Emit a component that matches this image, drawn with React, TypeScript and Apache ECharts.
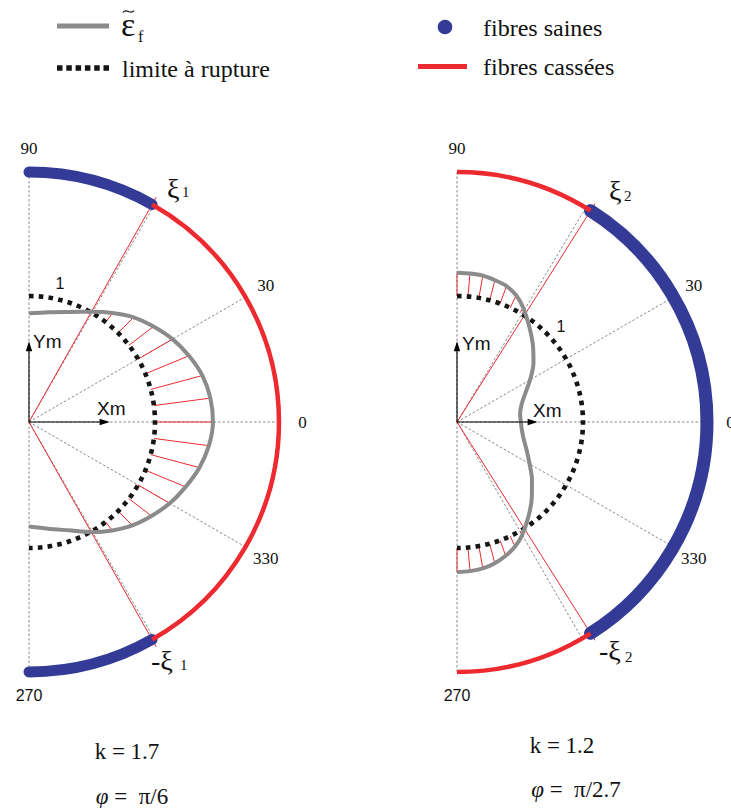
import React, { useEffect, useRef } from 'react';
import * as echarts from 'echarts';

// ---------------- data ----------------
const TICK_ANGLES = [90, 30, 0, -30, -90];
const TICK_LABELS = ['90', '30', '0', '330', '270'];

const LEFT_GUIDE_ANGLES = [90, 60, 30, 0, -30, -60, -90];
const RIGHT_GUIDE_ANGLES = [90, 59, 30, 0, -30, -60, -90];

const LEFT_XI = 60.5;
const RIGHT_XI = 57.7;

const LEFT_GRAY_ANGLES = [90, 80, 70, 60, 52.5, 45, 37.5, 30, 22.5, 15, 7.5, 0, -7.5, -15, -22.5, -30, -37.5, -45, -52.5, -60, -70, -80, -90];
const LEFT_GRAY_R = [0.863, 0.885, 0.93, 1.01, 1.09, 1.175, 1.245, 1.315, 1.374, 1.425, 1.452, 1.46, 1.44, 1.4, 1.345, 1.29, 1.225, 1.16, 1.085, 1.01, 0.915, 0.86, 0.83];

const RIGHT_GRAY_ANGLES = [90, 85, 80, 75, 70, 65, 60, 52.5, 45, 37.5, 30, 22.5, 15, 7.5, 0, -7.5, -15, -22.5, -30, -37.5, -45, -52.5, -60, -65, -70, -75, -80, -85, -90];
const RIGHT_GRAY_R = [1.185, 1.183, 1.18, 1.165, 1.148, 1.11, 1.05, 0.945, 0.853, 0.765, 0.67, 0.585, 0.53, 0.505, 0.507, 0.52, 0.55, 0.6, 0.665, 0.75, 0.84, 0.935, 1.035, 1.09, 1.13, 1.16, 1.18, 1.188, 1.19];

const LEFT_HATCH_ANGLES = [52.5, 45, 37.5, 30, 22.5, 15, 7.5, 0, -7.5, -15, -22.5, -30, -37.5, -45, -52.5];
const RIGHT_HATCH_ANGLES = [90, 85, 80, 75, 70, 65, 60, -60, -65, -70, -75, -80, -85, -90];

const LIMIT_R = 1;
const RING_R = 1.984;
const XI_RAY_R = 2.05;
const LABEL_R = 2.17;
const ARROW_LEN = 0.64;

const K_VALUES = ['1.7', '1.2'];
const PHI_VALUES = ['π/6', 'π/2.7'];

// ---------------- styling ----------------
const UNIT = 126;
const POLAR_MAX = 2.1;
const RED = '#ec2a2f';
const BLUE = '#333b96';
const GRAY = '#8b8b8b';
const GUIDE = '#7a7a7a';
const SERIF = 'Liberation Serif';
const SANS = 'Liberation Sans';

const rad = (d: number) => (d * Math.PI) / 180;

function arcRender(color: string, width: number, cap: string, dash?: number[]) {
  return (params: any, api: any) => {
    const r = api.value(0);
    const a1 = api.value(1);
    const a2 = api.value(2);
    const c = api.coord([0, 0]);
    const p = api.coord([r, 0]);
    const R = Math.hypot(p[0] - c[0], p[1] - c[1]);
    return {
      type: 'arc',
      shape: { cx: c[0], cy: c[1], r: R, startAngle: -rad(a1), endAngle: -rad(a2), clockwise: true },
      style: { stroke: color, lineWidth: width, fill: null, lineCap: cap, lineDash: dash || null },
    };
  };
}

function segRender(color: string, width: number, dash?: number[]) {
  return (params: any, api: any) => {
    const a = api.value(1);
    const p1 = api.coord([api.value(0), a]);
    const p2 = api.coord([api.value(2), a]);
    return {
      type: 'line',
      shape: { x1: p1[0], y1: p1[1], x2: p2[0], y2: p2[1] },
      style: { stroke: color, lineWidth: width, lineDash: dash || null },
    };
  };
}

function arrowRender(params: any, api: any) {
  const len = api.value(0);
  const a = api.value(1);
  const c = api.coord([0, a]);
  const p = api.coord([len, a]);
  const dx = p[0] - c[0];
  const dy = p[1] - c[1];
  const L = Math.hypot(dx, dy);
  const ux = dx / L;
  const uy = dy / L;
  const head = 10;
  const half = 3.2;
  const bx = p[0] - ux * head;
  const by = p[1] - uy * head;
  return {
    type: 'group',
    children: [
      { type: 'line', shape: { x1: c[0], y1: c[1], x2: bx + ux * 2, y2: by + uy * 2 }, style: { stroke: '#000', lineWidth: 1.1 } },
      {
        type: 'polygon',
        shape: { points: [[p[0], p[1]], [bx - uy * half, by + ux * half], [bx + uy * half, by - ux * half]] },
        style: { fill: '#000' },
      },
    ],
  };
}

function tickLabelRender(params: any, api: any) {
  const idx = api.value(2);
  const p = api.coord([api.value(0), api.value(1)]);
  const t = TICK_LABELS[idx];
  const isSans = t === '270';
  return {
    type: 'text',
    x: p[0],
    y: p[1],
    style: {
      text: t,
      fill: '#111',
      fontSize: isSans ? 16 : 17,
      fontFamily: isSans ? SANS : SERIF,
      align: 'center',
      verticalAlign: 'middle',
    },
  };
}

function panelSeries(
  polarIndex: number,
  guides: number[],
  xi: number,
  healthy: number[][],
  broken: number[][],
  healthyWidth: number,
  grayAngles: number[],
  grayR: number[],
  hatchAngles: number[],
) {
  const base = { type: 'custom', coordinateSystem: 'polar', polarIndex, encode: { radius: 0, angle: 1 }, silent: true };
  const hatchData = hatchAngles.map((a) => [LIMIT_R, a, grayR[grayAngles.indexOf(a)]]);
  return [
    { ...base, name: 'guides' + polarIndex, z: 1, renderItem: segRender(GUIDE, 0.9, [2.5, 2]), data: guides.map((a) => [0, a, RING_R]) },
    { ...base, name: 'hatch' + polarIndex, z: 2, renderItem: segRender(RED, 1), data: hatchData },
    { ...base, name: 'xi' + polarIndex, z: 3, renderItem: segRender(RED, 1), data: [[0, xi, XI_RAY_R], [0, -xi, XI_RAY_R]] },
    { ...base, name: 'limite à rupture', z: 4, renderItem: arcRender('#151515', 4.6, 'butt', [4.6, 5.2]), data: [[LIMIT_R, 90, -90]] },
    {
      type: 'line',
      name: 'ε' + polarIndex,
      coordinateSystem: 'polar',
      polarIndex,
      z: 5,
      smooth: 0.3,
      symbol: 'none',
      clip: false,
      silent: true,
      lineStyle: { color: GRAY, width: 4 },
      data: grayAngles.map((a, i) => [grayR[i], a]),
    },
    { ...base, name: 'fibres saines' + polarIndex, z: 6, renderItem: arcRender(BLUE, healthyWidth, 'round'), data: healthy.map((h) => [RING_R, h[0], h[1]]) },
    { ...base, name: 'fibres cassées' + polarIndex, z: 7, renderItem: arcRender(RED, 4.5, 'butt'), data: broken.map((b) => [RING_R, b[0], b[1]]) },
    { ...base, name: 'axes' + polarIndex, z: 8, renderItem: arrowRender, data: [[ARROW_LEN, 0], [ARROW_LEN, 90]] },
    { ...base, name: 'ticks' + polarIndex, z: 9, renderItem: tickLabelRender, data: TICK_ANGLES.map((a, i) => [LABEL_R, a, i]) },
  ];
}

function txt(text: string, x: number, y: number, size: number, family = SERIF, align = 'left') {
  return {
    type: 'text',
    x,
    y,
    z: 100,
    style: { text, fill: '#111', fontSize: size, fontFamily: family, align, verticalAlign: 'middle' },
  };
}

function phiText(value: string, x: number, y: number) {
  return {
    type: 'text',
    x,
    y,
    z: 100,
    style: {
      text: '{i|φ}{n| =\u00a0 ' + value + '}',
      align: 'center',
      verticalAlign: 'middle',
      rich: {
        i: { fontSize: 23, fontFamily: SERIF, fontStyle: 'italic', fill: '#111' },
        n: { fontSize: 23, fontFamily: SERIF, fill: '#111' },
      },
    },
  };
}

export default function App() {
  const ref = useRef<HTMLDivElement>(null);
  useEffect(() => {
    if (!ref.current) return;
    const chart = echarts.init(ref.current, null, { renderer: 'svg' });
    const angleAxis = (i: number) => ({ polarIndex: i, type: 'value', min: -180, max: 180, startAngle: 180, clockwise: false, show: false });
    const radiusAxis = (i: number) => ({ polarIndex: i, type: 'value', min: 0, max: POLAR_MAX, show: false });
    const option: any = {
      animation: false,
      backgroundColor: '#ffffff',
      polar: [
        { center: [29, 422], radius: POLAR_MAX * UNIT },
        { center: [457, 422], radius: POLAR_MAX * UNIT },
      ],
      angleAxis: [angleAxis(0), angleAxis(1)],
      radiusAxis: [radiusAxis(0), radiusAxis(1)],
      series: [
        ...panelSeries(0, LEFT_GUIDE_ANGLES, LEFT_XI, [[90, LEFT_XI], [-LEFT_XI, -90]], [[LEFT_XI, -LEFT_XI]], 11, LEFT_GRAY_ANGLES, LEFT_GRAY_R, LEFT_HATCH_ANGLES),
        ...panelSeries(1, RIGHT_GUIDE_ANGLES, RIGHT_XI, [[RIGHT_XI, -RIGHT_XI]], [[90, RIGHT_XI], [-RIGHT_XI, -90]], 13, RIGHT_GRAY_ANGLES, RIGHT_GRAY_R, RIGHT_HATCH_ANGLES),
      ],
      graphic: [
        // legend
        { type: 'line', shape: { x1: 57, y1: 26, x2: 109, y2: 26 }, style: { stroke: GRAY, lineWidth: 5 } },
        {
          type: 'bezierCurve',
          shape: { x1: 123, y1: 12.5, x2: 134, y2: 10.5, cpx1: 126.5, cpy1: 7, cpx2: 130.5, cpy2: 16 },
          style: { stroke: '#111', lineWidth: 1.3, fill: null },
        },
        txt('ε', 121, 24, 34),
        txt('f', 138, 36, 16),
        { type: 'line', shape: { x1: 57, y1: 68, x2: 109, y2: 68 }, style: { stroke: '#151515', lineWidth: 5.5, lineDash: [5.5, 3.8] } },
        txt('limite à rupture', 122, 69, 24),
        { type: 'circle', shape: { cx: 445, cy: 27, r: 7.3 }, style: { fill: BLUE } },
        txt('fibres saines', 483, 28, 24),
        { type: 'line', shape: { x1: 418, y1: 66.5, x2: 467, y2: 66.5 }, style: { stroke: RED, lineWidth: 5 } },
        txt('fibres cassées', 483, 67, 24),
        // left panel annotations
        txt('ξ', 167, 188.5, 28),
        txt('1', 182, 192, 15),
        txt('-ξ', 151, 660.5, 28),
        txt('1', 180, 665, 15),
        txt('1', 60, 283, 16, SANS, 'center'),
        txt('Ym', 33, 341, 19, SANS),
        txt('Xm', 97, 408, 19, SANS),
        txt('k = ' + K_VALUES[0], 127, 751, 23, SERIF, 'center'),
        phiText(PHI_VALUES[0], 132, 796),
        // right panel annotations
        txt('ξ', 609, 190.5, 28),
        txt('2', 624, 196, 15),
        txt('-ξ', 599, 650.5, 28),
        txt('2', 625, 657, 15),
        txt('1', 561, 326, 16, SANS, 'center'),
        txt('Ym', 462, 343, 19, SANS),
        txt('Xm', 533, 410, 19, SANS),
        txt('k = ' + K_VALUES[1], 562, 745, 23, SERIF, 'center'),
        phiText(PHI_VALUES[1], 576, 789),
      ],
    };
    chart.setOption(option);
    return () => chart.dispose();
  }, []);
  return <div ref={ref} style={{ position: 'absolute', left: 0, top: 0, width: 731, height: 808, background: '#fff' }} />;
}
